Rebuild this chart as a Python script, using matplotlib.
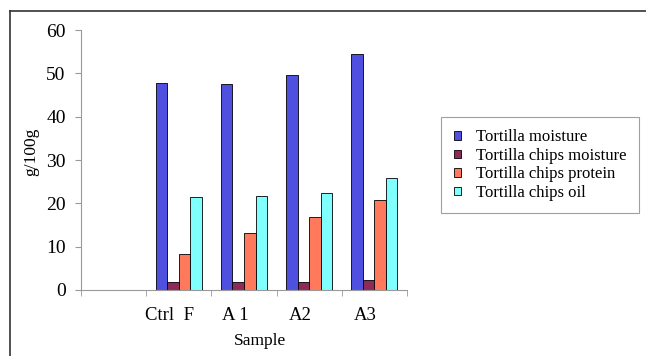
import numpy as np
import matplotlib.pyplot as plt
from matplotlib.lines import Line2D

plt.rcParams['font.family'] = ['Liberation Serif', 'DejaVu Serif']

# Data (g/100g)
samples = ["", "Ctrl  F", "A 1", "A2", "A3"]
tortilla_moisture = [np.nan, 47.8, 47.5, 49.7, 54.4]
chips_moisture = [np.nan, 1.9, 1.9, 1.9, 2.2]
chips_protein = [np.nan, 8.3, 13.2, 16.8, 20.8]
chips_oil = [np.nan, 21.4, 21.7, 22.5, 25.8]

series = [
    ("Tortilla moisture", tortilla_moisture, "#5050e0"),
    ("Tortilla chips moisture", chips_moisture, "#8e2a5a"),
    ("Tortilla chips protein", chips_protein, "#ff7a5c"),
    ("Tortilla chips oil", chips_oil, "#80ffff"),
]

fig = plt.figure(figsize=(6.46, 3.56), dpi=100)
ax = fig.add_axes([0.1254, 0.1854, 0.5046, 0.7303])

x = np.arange(len(samples))
w = 0.177
for i, (name, vals, col) in enumerate(series):
    ax.bar(x + (i - 1.5) * w, vals, w, color=col, edgecolor="black",
           linewidth=0.6, label=name)

ax.set_xlim(-0.5, len(samples) - 0.5)
ax.set_ylim(0, 60)
ax.set_yticks(range(0, 61, 10))
# labels sit a bit left of the group centres in the original
ax.set_xticks(x - 0.14)
ax.set_xticklabels(samples, fontsize=13.5)
ax.set_xticks(np.arange(-0.5, len(samples), 1), minor=True)
ax.tick_params(axis="x", which="major", length=0, pad=12)
ax.tick_params(axis="x", which="minor", length=4, color="#999999")
ax.tick_params(axis="y", labelsize=14, length=4, color="#999999", pad=7)
for s in ["top", "right"]:
    ax.spines[s].set_visible(False)
for s in ["left", "bottom"]:
    ax.spines[s].set_color("#999999")

ax.set_xlabel("Sample", fontsize=12.5)
ax.xaxis.set_label_coords(0.55, -0.165)
ax.set_ylabel("g/100g", fontsize=12.5)
ax.yaxis.set_label_coords(-0.128, 0.53)

leg = ax.legend(loc="center left", bbox_to_anchor=(1.08, 0.48), fontsize=12,
                frameon=True, fancybox=False, edgecolor="#888888",
                handlelength=0.45, handleheight=0.45, handletextpad=0.9,
                labelspacing=0.15, borderpad=0.75)
leg.get_frame().set_linewidth(0.8)

# outer chart frame (left and top edges visible)
fig.add_artist(Line2D([10 / 646, 10 / 646], [0, 1 - 11 / 356], color="#333333",
                      linewidth=1.2, transform=fig.transFigure))
fig.add_artist(Line2D([10 / 646, 1], [1 - 11 / 356, 1 - 11 / 356], color="#333333",
                      linewidth=1.2, transform=fig.transFigure))

fig.savefig("out.png", dpi=100)
